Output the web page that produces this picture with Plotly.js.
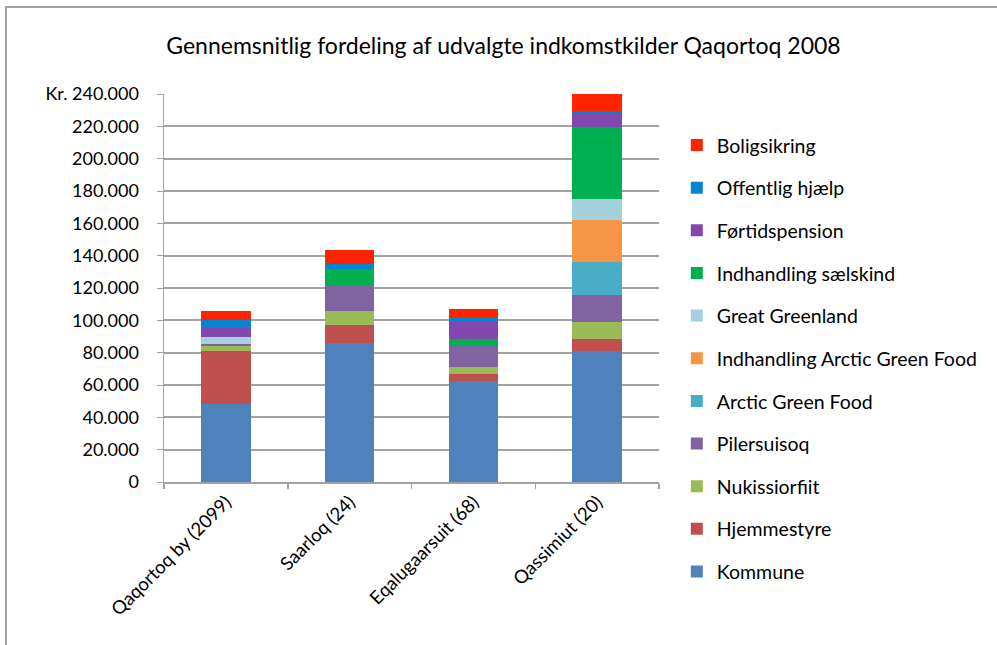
<!DOCTYPE html>
<html>
<head>
<meta charset="utf-8">
<script src="https://cdn.plot.ly/plotly-3.0.1.min.js"></script>
<style>
  html, body { margin: 0; padding: 0; background: #fff; overflow: hidden; }
  #chart { position: absolute; left: 0; top: 0; width: 997px; height: 645px; }
  #frame { position: absolute; left: 5px; top: 6px; width: 1100px; height: 800px;
           border: 2px solid #a3a3a3; pointer-events: none; box-sizing: border-box; }
</style>
</head>
<body>
<div id="chart"></div>
<div id="frame"></div>
<script>
const categories = ['Qaqortoq by (2099)', 'Saarloq (24)', 'Eqalugaarsuit (68)', 'Qassimiut (20)'];

const kommune         = [48000, 86000, 62500, 81000];
const hjemmestyre     = [33000, 11300,  4300,  7500];
const nukissiorfiit   = [ 3000,  8700,  4500, 10300];
const pilersuisoq     = [ 1500, 15900, 12800, 16900];
const arcticGreenFood = [    0,     0,     0, 20400];
const indhandlingAGF  = [    0,     0,     0, 26000];
const greatGreenland  = [ 4500,     0,     0, 12900];
const saelskind       = [    0, 10000,  4400, 44600];
const fortidspension  = [ 5500,     0, 11100,  8500];
const offentligHjaelp = [ 4600,  3000,  1700,  1600];
const boligsikring    = [ 5800,  8600,  5900, 11100];

const seriesNames = ['Kommune', 'Hjemmestyre', 'Nukissiorfiit', 'Pilersuisoq', 'Arctic Green Food',
  'Indhandling Arctic Green Food', 'Great Greenland', 'Indhandling sælskind', 'Førtidspension',
  'Offentlig hjælp', 'Boligsikring'];
const seriesValues = [kommune, hjemmestyre, nukissiorfiit, pilersuisoq, arcticGreenFood,
  indhandlingAGF, greatGreenland, saelskind, fortidspension, offentligHjaelp, boligsikring];
const seriesColors = ['#4F81BD', '#C0504D', '#9BBB59', '#8064A2', '#4BACC6',
  '#F79646', '#A5D0DE', '#00B050', '#8347AD', '#0784CF', '#FF2400'];

const tickVals = [0, 20000, 40000, 60000, 80000, 100000, 120000, 140000, 160000, 180000, 200000, 220000, 240000];
const tickText = ['0', '20.000', '40.000', '60.000', '80.000', '100.000', '120.000', '140.000',
  '160.000', '180.000', '200.000', '220.000', 'Kr. 240.000'];

const font = 'Lato, "Open Sans", sans-serif';

const traces = seriesNames.map((name, i) => ({
  type: 'bar',
  name: name,
  x: categories,
  y: seriesValues[i],
  marker: { color: seriesColors[i], line: { width: 0 } },
  legendgroup: 'g' + i,
  legendrank: 100 - i,
  hoverinfo: 'x+y+name'
}));

const layout = {
  width: 997, height: 645,
  barmode: 'stack',
  bargap: 0.6,
  paper_bgcolor: '#ffffff',
  plot_bgcolor: '#ffffff',
  font: { family: font, color: '#000', size: 18 },
  title: {
    text: 'Gennemsnitlig fordeling af udvalgte indkomstkilder Qaqortoq 2008',
    font: { family: font, size: 23, color: '#000' },
    x: 0.505, xanchor: 'center', y: 0.928, yanchor: 'middle'
  },
  margin: { l: 164, r: 338, t: 94, b: 163 },
  xaxis: {
    type: 'category',
    tickangle: -45,
    tickfont: { family: font, size: 18.5 },
    showline: true, linecolor: '#a3a3a3', linewidth: 2,
    ticks: 'outside', tickson: 'boundaries', ticklen: 5, tickcolor: '#a3a3a3', tickwidth: 1.5,
    showgrid: false
  },
  yaxis: {
    range: [0, 240000],
    tickvals: tickVals, ticktext: tickText,
    tickfont: { family: font, size: 18 },
    showgrid: true, gridcolor: '#a3a3a3', gridwidth: 1.8,
    showline: true, linecolor: '#a3a3a3', linewidth: 1.5,
    ticks: 'outside', ticklen: 6, tickcolor: '#a3a3a3',
    ticklabelstandoff: 14,
    zeroline: false
  },
  legend: {
    traceorder: 'grouped',
    x: 1.036, xanchor: 'left', xref: 'paper',
    y: 0.918, yanchor: 'top',
    maxheight: 1000,
    tracegroupgap: 14.3,
    font: { family: font, size: 19.5, color: '#000' },
    itemwidth: 30
  },
  showlegend: true
};

Plotly.newPlot('chart', traces, layout, { displayModeBar: false, staticPlot: true });
</script>
</body>
</html>
